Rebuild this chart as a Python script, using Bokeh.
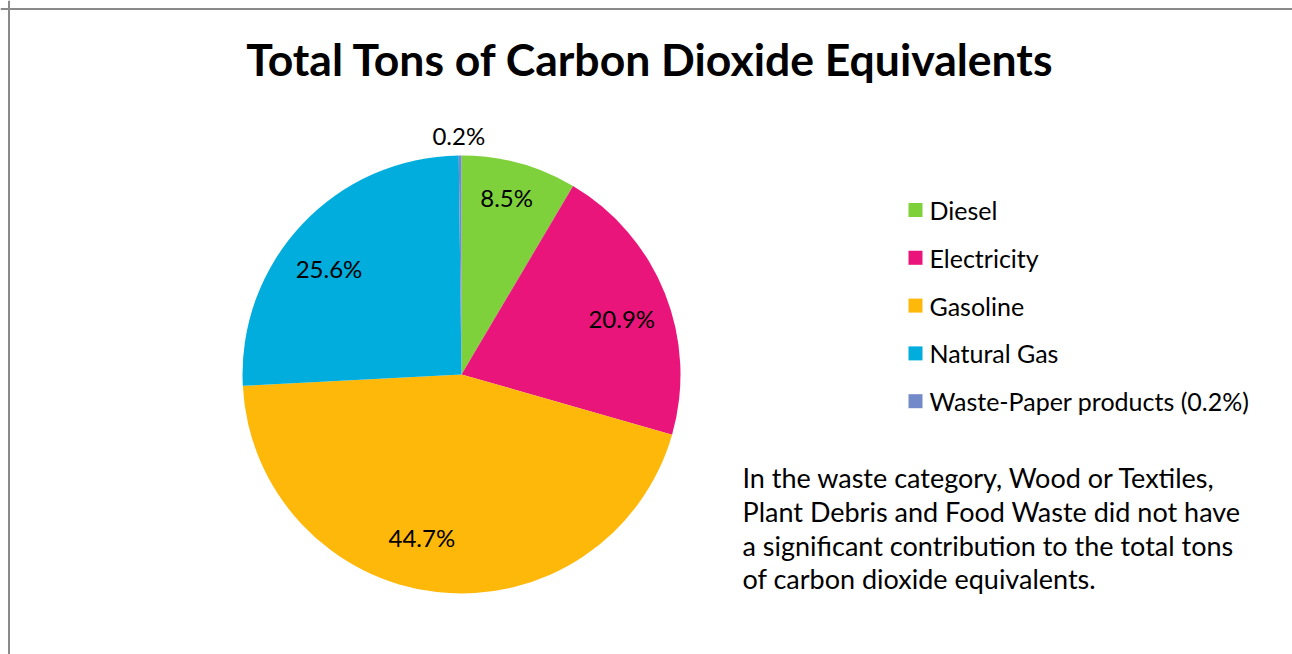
import math
from bokeh.plotting import figure
from bokeh.models import Range1d, Span, ColumnDataSource
from bokeh.core.properties import value
from bokeh.embed import file_html
from bokeh.resources import INLINE

# ---- data ----
categories = ["Diesel", "Electricity", "Gasoline", "Natural Gas", "Waste-Paper products"]
shares = [8.5, 20.9, 44.7, 25.6, 0.2]
slice_labels = ["8.5%", "20.9%", "44.7%", "25.6%", "0.2%"]
legend_labels = ["Diesel", "Electricity", "Gasoline", "Natural Gas", "Waste-Paper products (0.2%)"]
colors = ["#7FD13B", "#EA157A", "#FEB80A", "#00ADDC", "#738AC8"]
title_text = "Total Tons of Carbon Dioxide Equivalents"
note_lines = [
    "In the waste category, Wood or Textiles,",
    "Plant Debris and Food Waste did not have",
    "a significant contribution to the total tons",
    "of carbon dioxide equivalents.",
]

W, H = 1292, 654
FONT = "Lato"

p = figure(width=W, height=H, x_range=Range1d(0, W), y_range=Range1d(0, H),
           output_backend="svg", toolbar_location=None, min_border=0)
p.axis.visible = False
p.grid.visible = False
p.outline_line_color = None
p.background_fill_color = "white"
p.border_fill_color = "white"

# chart-area border (top and left visible)
p.add_layout(Span(location=8.5, dimension="height", line_color="#8a8a8a", line_width=2))
p.add_layout(Span(location=H - 8.5, dimension="width", line_color="#8a8a8a", line_width=2))

# ---- pie ----
cx, cy, r = 461, H - 374, 219
total = sum(shares)
cum = [0]
for s in shares:
    cum.append(cum[-1] + s / total)
starts = [math.pi / 2 - 2 * math.pi * cum[i + 1] for i in range(len(shares))]
ends = [math.pi / 2 - 2 * math.pi * cum[i] for i in range(len(shares))]
src = ColumnDataSource(dict(start=starts, end=ends, color=colors, cat=categories))
p.wedge(x=cx, y=cy, radius=r, start_angle="start", end_angle="end",
        fill_color="color", line_color=None, source=src)

# slice labels (radial distance as fraction of radius, angular nudge in degrees)
label_r_frac = [0.834, 0.775, 0.765, 0.776, 1.09]
label_nudge = [-1.0, 2.5, 7.2, -4.4, -0.3]
lx, ly = [], []
for i in range(len(shares)):
    mid = 2 * math.pi * (cum[i] + cum[i + 1]) / 2 + math.radians(label_nudge[i])
    rr = r * label_r_frac[i]
    lx.append(cx + rr * math.sin(mid))
    ly.append(cy + rr * math.cos(mid))
p.text(x=lx, y=ly, text=slice_labels, text_align="center", text_baseline="middle",
       text_font=value(FONT), text_font_size="24px", text_color="black")

# ---- title ----
p.text(x=[650], y=[H - 58], text=[title_text], text_align="center", text_baseline="middle",
       text_font=value(FONT), text_font_style="bold", text_font_size="44.5px", text_color="black")

# ---- legend ----
leg_x, leg_top, leg_pitch = 915, H - 209.5, 47.8
ys = [leg_top - i * leg_pitch for i in range(len(categories))]
p.scatter(x=[leg_x] * len(categories), y=ys, marker="square", size=14,
          fill_color=colors, line_color=None)
p.text(x=[leg_x + 14] * len(categories), y=ys, text=legend_labels, text_align="left",
       text_baseline="middle", text_font=value(FONT), text_font_size="25px", text_color="black")

# ---- note ----
note_top, note_pitch = H - 477, 33.8
p.text(x=[742] * len(note_lines), y=[note_top - i * note_pitch for i in range(len(note_lines))],
       text=note_lines, text_align="left", text_baseline="middle",
       text_font=value(FONT), text_font_size="27px", text_color="black")

open("out.html", "w").write(file_html(p, INLINE))
